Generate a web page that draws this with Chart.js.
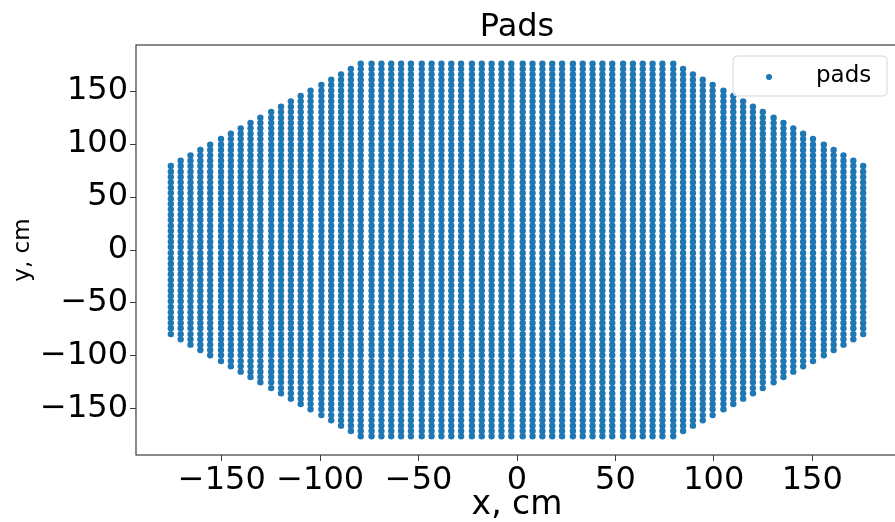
<!DOCTYPE html>
<html>
<head>
<meta charset="utf-8">
<script src="https://cdn.jsdelivr.net/npm/chart.js@4/dist/chart.umd.min.js"></script>
<style>
  html, body { margin: 0; padding: 0; background: #fff; overflow: hidden; }
  #wrap { width: 902px; height: 522px; }
</style>
</head>
<body>
<div id="wrap"><canvas id="chart"></canvas></div>
<script>
// pad centre positions along one half-axis (cm);
// the same set is used for columns (x) and rows (y), mirrored about 0
const padCentres = [2.9, 7.9, 12.9, 17.9, 22.9, 28.4, 33.4, 38.4, 43.4, 48.4,
    53.9, 58.9, 63.9, 68.9, 73.9, 79.4, 84.4, 89.4, 94.4, 99.4,
    104.9, 109.9, 114.9, 119.9, 124.9, 130.4, 135.4, 140.4, 145.4, 150.4,
    155.9, 160.9, 165.9, 170.9, 175.9];

// highest |y| row filled in each column (same order as padCentres)
const columnTop = [175.9, 175.9, 175.9, 175.9, 175.9, 175.9, 175.9, 175.9, 175.9, 175.9,
    175.9, 175.9, 175.9, 175.9, 175.9, 175.9, 170.9, 165.9, 160.9, 155.9,
    150.4, 145.4, 140.4, 135.4, 130.4, 124.9, 119.9, 114.9, 109.9, 104.9,
    99.4, 94.4, 89.4, 84.4, 79.4];

const xTicks = [-150, -100, -50, 0, 50, 100, 150];
const yTicks = [-150, -100, -50, 0, 50, 100, 150];

// build the pad list from the columns and their extents
let pads = [];
padCentres.forEach((cx, i) => {
    [-cx, cx].forEach(x => {
        padCentres.forEach(cy => {
            if (cy <= columnTop[i] + 0.01) {
                pads.push({ x: x, y: cy });
                pads.push({ x: x, y: -cy });
            }
        });
    });
});

const font = 'DejaVu Sans';
const blue = '#1f77b4';
const fmt = v => (v < 0 ? '\u2212' + Math.abs(v) : '' + v);

// matplotlib-like frame and legend box
const frame = {
    id: 'frame',
    afterDraw(chart) {
        const { ctx, chartArea: a } = chart;
        ctx.save();
        ctx.strokeStyle = '#3d3d3d';
        ctx.lineWidth = 1.2;
        ctx.strokeRect(a.left, a.top, a.right - a.left, a.bottom - a.top);

        // legend
        const bx = 733, by = 56, bw = 154, bh = 40;
        ctx.fillStyle = 'rgba(255,255,255,0.8)';
        ctx.strokeStyle = '#d6d6d6';
        ctx.lineWidth = 1;
        ctx.beginPath();
        ctx.roundRect(bx, by, bw, bh, 4);
        ctx.fill();
        ctx.stroke();
        ctx.fillStyle = blue;
        ctx.beginPath();
        ctx.arc(769, 77, 3, 0, Math.PI * 2);
        ctx.fill();
        ctx.fillStyle = '#000';
        ctx.font = '23px "' + font + '"';
        ctx.textBaseline = 'middle';
        ctx.fillText(chart.data.datasets[0].label, 816, 76);
        ctx.restore();
    }
};

let ctx = document.getElementById('chart');
let chart = new Chart(ctx, {
    type: 'scatter',
    data: {
        datasets: [{
            label: 'pads',
            data: pads,
            backgroundColor: blue,
            borderWidth: 0,
            pointRadius: 3.2
        }]
    },
    options: {
        responsive: true,
        maintainAspectRatio: false,
        animation: false,
        layout: { padding: 0 },
        plugins: {
            legend: { display: false },
            tooltip: { enabled: false },
            title: {
                display: true,
                fullSize: false,
                text: 'Pads',
                color: '#000',
                font: { family: font, size: 32, weight: 'normal', lineHeight: 1.0 },
                padding: { top: 12, bottom: 1 }
            }
        },
        scales: {
            x: {
                type: 'linear',
                min: -193.6,
                max: 193.6,
                afterFit: s => { s.height = 67; },
                afterBuildTicks: s => { s.ticks = xTicks.map(v => ({ value: v })); },
                grid: { drawOnChartArea: false, tickLength: 6, color: '#3d3d3d' },
                border: { display: false },
                ticks: {
                    color: '#000',
                    padding: 0,
                    maxRotation: 0,
                    autoSkip: false,
                    font: { family: font, size: 32 },
                    callback: v => fmt(v)
                },
                title: {
                    display: true,
                    text: 'x, cm',
                    color: '#000',
                    font: { family: font, size: 33, lineHeight: 1.0 },
                    padding: { top: 0, bottom: 0 }
                }
            },
            y: {
                type: 'linear',
                min: -193.6,
                max: 193.6,
                afterFit: s => { s.width = 136; },
                afterBuildTicks: s => { s.ticks = yTicks.map(v => ({ value: v })); },
                grid: { drawOnChartArea: false, tickLength: 6, color: '#3d3d3d' },
                border: { display: false },
                ticks: {
                    color: '#000',
                    padding: 2,
                    autoSkip: false,
                    font: { family: font, size: 32 },
                    callback: v => fmt(v)
                },
                title: {
                    display: true,
                    text: 'y, cm',
                    color: '#000',
                    font: { family: font, size: 23 },
                    padding: { top: 9, bottom: 0 }
                }
            }
        }
    },
    plugins: [frame]
});
</script>
</body>
</html>
